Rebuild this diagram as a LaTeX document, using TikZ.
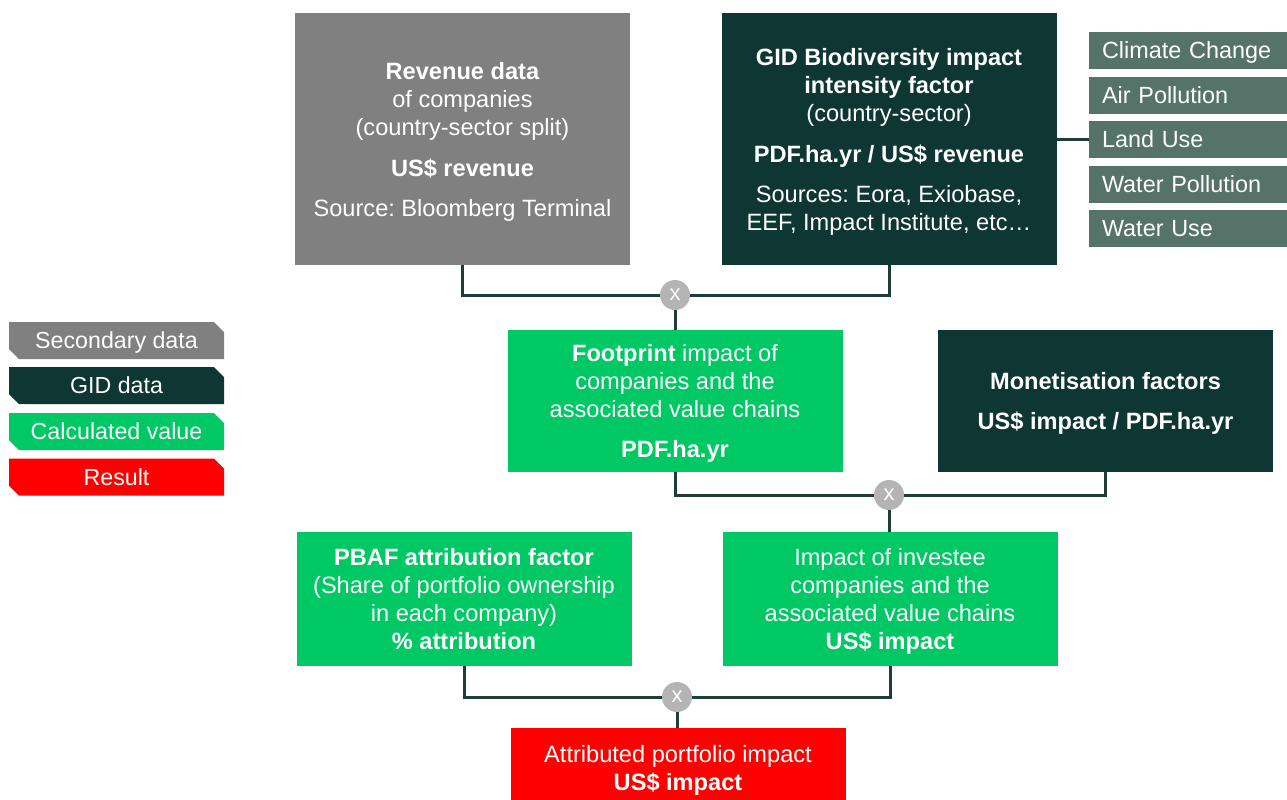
\documentclass[tikz,border=0pt]{standalone}
\usepackage{fontspec}
\setmainfont{Liberation Sans}
\frenchspacing
\usetikzlibrary{shapes.misc}
\definecolor{cgray}{HTML}{808080}
\definecolor{cdark}{HTML}{0E3632}
\definecolor{cgreen}{HTML}{00C864}
\definecolor{cred}{HTML}{FF0000}
\definecolor{ccat}{HTML}{557369}
\definecolor{cline}{HTML}{1E3C38}
\definecolor{ccirc}{HTML}{B4B4B4}
\tikzset{
  box/.style={inner sep=0pt, text=white, align=center, text depth=0pt, font=\fontsize{23.6}{28}\selectfont},
  bigbox/.style={box, minimum width=335pt, minimum height=252pt},
  midbox/.style={box, minimum width=335pt, minimum height=142pt},
  lowbox/.style={box, minimum width=335pt, minimum height=134pt},
  catbox/.style={fill=ccat, inner xsep=13pt, inner ysep=0pt, text width=172pt, minimum height=37pt, align=left, text depth=0pt, text=white, font=\fontsize{23.4}{28}\selectfont},
  legbox/.style={chamfered rectangle, chamfered rectangle corners={north east, south west}, chamfered rectangle xsep=5pt, chamfered rectangle ysep=5pt, inner sep=0pt, minimum width=215pt, minimum height=37pt, text depth=0pt, text=white, font=\fontsize{23.2}{26}\selectfont},
  mult/.style={circle, fill=ccirc, minimum size=30pt, inner sep=0pt, text=white, font=\fontsize{22}{22}\selectfont},
  conn/.style={draw=cline, line width=3pt},
}
\begin{document}
\begin{tikzpicture}[x=1pt,y=-1pt]
\useasboundingbox (0,0) rectangle (1287,800);
% top row
\node[bigbox, fill=cgray] (rev) at (462.5,139) {\textbf{Revenue data}\\of companies\\(country-sector split)\\[13pt]\textbf{US\$ revenue}\\[12pt]Source: Bloomberg Terminal};
\node[bigbox, fill=cdark] (gid) at (889,139) {\textbf{GID Biodiversity impact}\\\textbf{intensity factor}\\(country-sector)\\[13pt]\textbf{PDF.ha.yr / US\$ revenue}\\[12pt]Sources: Eora, Exiobase,\\EEF, Impact Institute, etc…};
% categories
\node[catbox] (cc) at (1188,50.5) {Climate Change};
\node[catbox] (ap) at (1188,95) {Air Pollution};
\node[catbox] (lu) at (1188,139.5) {Land Use};
\node[catbox] (wp) at (1188,184) {Water Pollution};
\node[catbox] (wu) at (1188,228.5) {Water Use};
% middle row
\node[midbox, fill=cgreen] (foot) at (675,401) {\textbf{Footprint} impact of\\companies and the\\associated value chains\\[12pt]\textbf{PDF.ha.yr}};
\node[midbox, fill=cdark] (mon) at (1105.5,401) {\textbf{Monetisation factors}\\[12pt]\textbf{US\$ impact / PDF.ha.yr}};
% lower row
\node[lowbox, fill=cgreen] (pbaf) at (464,599) {\textbf{PBAF attribution factor}\\(Share of portfolio ownership\\in each company)\\\textbf{\% attribution}};
\node[lowbox, fill=cgreen] (imp) at (890,599) {Impact of investee\\companies and the\\associated value chains\\\textbf{US\$ impact}};
% result
\node[box, fill=cred, minimum width=335pt, minimum height=80pt] (res) at (678,768) {Attributed portfolio impact\\\textbf{US\$ impact}};
% legend
\node[legbox, fill=cgray] (l1) at (116.5,340.5) {Secondary data};
\node[legbox, fill=cdark] (l2) at (116.5,385.5) {GID data};
\node[legbox, fill=cgreen] (l3) at (116.5,431.5) {Calculated value};
\node[legbox, fill=cred] (l4) at (116.5,477) {Result};
% multiplication circles
\node[mult] (m1) at (675,295) {x};
\node[mult] (m2) at (889,495) {x};
\node[mult] (m3) at (677,697) {x};
% connectors
\draw[conn] (rev.south) |- (m1.west);
\draw[conn] (m1.east) -| (gid.south);
\draw[conn] (m1.south) -- (m1.south |- foot.north);
\draw[conn] (gid.east) -- (gid.east -| lu.west);
\draw[conn] (foot.south) |- (m2.west);
\draw[conn] (m2.east) -| (mon.south);
\draw[conn] (m2.south) -- (m2.south |- imp.north);
\draw[conn] (pbaf.south) |- (m3.west);
\draw[conn] (m3.east) -| (imp.south);
\draw[conn] (m3.south) -- (m3.south |- res.north);
\end{tikzpicture}
\end{document}
